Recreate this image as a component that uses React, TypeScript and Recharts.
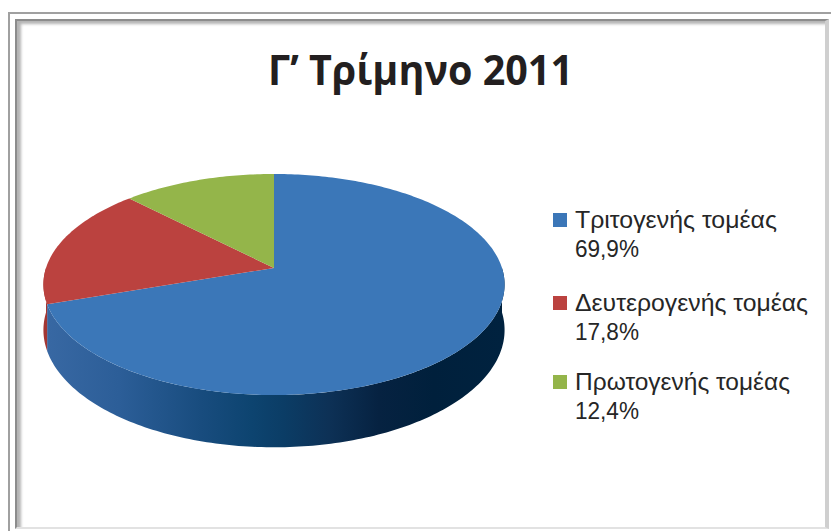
import React from 'react';
import { PieChart, Pie, Legend } from 'recharts';

// ---- data ----
const categories = ['Τριτογενής τομέας', 'Δευτερογενής τομέας', 'Πρωτογενής τομέας'];
const shares = [69.9, 17.8, 12.4];
const shareLabels = ['69,9%', '17,8%', '12,4%'];
const chartTitle = 'Γ’ Τρίμηνο 2011';

// ---- style ----
const topColors = ['#3B77B8', '#BB423F', '#94B54A'];
const sideFills = ['url(#sideBlue)', 'url(#sideRed)', 'url(#sideGreen)'];
const legendTextWidths = [202, 233, 215];
const W = 831;
const H = 531;
const CX = 274;
const CY = 268;
const R = 228;
const RY_RATIO = 0.474;
const DEPTH_RATIO = 0.195;
const PERSP = 6.7;

const data = categories.map((name, i) => ({ name, value: shares[i], fill: topColors[i] }));

function proj(cx: number, cy: number, r: number, deg: number, drop: number): [number, number] {
  const t = (deg * Math.PI) / 180;
  const X = Math.cos(t);
  const Z = -Math.sin(t);
  const f = PERSP / (PERSP - Z);
  return [cx + r * X * f, cy + (r * RY_RATIO * Z + drop) * f];
}

function arcPts(cx: number, cy: number, r: number, a: number, b: number, drop: number) {
  const n = Math.max(2, Math.ceil(Math.abs(b - a)));
  const pts: [number, number][] = [];
  for (let i = 0; i <= n; i++) {
    const d = a + ((b - a) * i) / n;
    pts.push(proj(cx, cy, r, d, drop));
  }
  return pts;
}

const toPath = (pts: [number, number][]) => pts.map((p) => `${p[0].toFixed(2)},${p[1].toFixed(2)}`).join(' L');

const Sector3D = (props: any) => {
  const { cx, cy, outerRadius, startAngle, endAngle, fill } = props;
  const idx = Math.max(0, topColors.indexOf(fill));
  const depth = outerRadius * DEPTH_RATIO;
  const lo = Math.min(startAngle, endAngle);
  const hi = Math.max(startAngle, endAngle);
  const sides: string[] = [];
  for (const k of [-360, 0, 360]) {
    const a = Math.max(lo, -180 + k);
    const b = Math.min(hi, 0 + k);
    if (b > a) {
      const top = arcPts(cx, cy, outerRadius, a, b, 0);
      const bot = arcPts(cx, cy, outerRadius, b, a, depth);
      sides.push(`M${toPath(top)} L${toPath(bot)} Z`);
    }
  }
  const topPts = arcPts(cx, cy, outerRadius, startAngle, endAngle, 0);
  const topD = `M${cx},${cy} L${toPath(topPts)} Z`;
  return (
    <g>
      {sides.map((d, i) => (
        <path key={i} d={d} fill={sideFills[idx]} stroke="none" />
      ))}
      <path d={topD} fill={fill} stroke="none" />
    </g>
  );
};

const LEGEND_FONT = "'Liberation Sans', Arial, sans-serif";

const renderLegend = () => (
  <svg width={290} height={240} style={{ overflow: 'visible' }}>
    {categories.map((name, i) => {
      const y0 = [18, 101, 180][i];
      return (
        <g key={name}>
          <rect x={13} y={y0} width={14} height={14} fill={topColors[i]} />
          <text
            x={35}
            y={y0 + 14.5}
            fontFamily={LEGEND_FONT}
            fontSize={24}
            fill="#262626"
            textLength={legendTextWidths[i]}
            lengthAdjust="spacingAndGlyphs"
          >
            {name}
          </text>
          <text
            x={35}
            y={y0 + 43.5}
            fontFamily={LEGEND_FONT}
            fontSize={24}
            fill="#262626"
            textLength={64}
            lengthAdjust="spacingAndGlyphs"
          >
            {shareLabels[i]}
          </text>
        </g>
      );
    })}
  </svg>
);

export default function App() {
  return (
    <div style={{ position: 'absolute', left: 0, top: 0, width: W, height: H, background: '#fff', overflow: 'hidden' }}>
      {/* outer frame */}
      <div
        style={{
          position: 'absolute',
          left: 8,
          top: 12,
          width: W - 8,
          height: H - 12,
          borderTop: '2px solid #a0a0a0',
          borderLeft: '2px solid #a0a0a0',
          boxSizing: 'border-box',
        }}
      />
      {/* inner frame */}
      <div
        style={{
          position: 'absolute',
          left: 15,
          top: 19,
          width: 814,
          height: 510,
          borderTop: '2px solid #8c8c8c',
          borderLeft: '2px solid #8c8c8c',
          borderRight: '4px solid #cfcfcf',
          borderBottom: '2px solid #e2e2e2',
          boxShadow: 'inset 5px 4px 3px -1px #b4b4b4',
          boxSizing: 'border-box',
        }}
      />
      <svg width={W} height={100} style={{ position: 'absolute', left: 0, top: 0 }}>
        <text
          x={268}
          y={85}
          fontFamily="'Open Sans', 'Noto Sans', sans-serif"
          fontWeight={700}
          fontSize={42}
          fill="#231F20"
          textLength={305}
          lengthAdjust="spacingAndGlyphs"
        >
          {chartTitle}
        </text>
      </svg>
      <div style={{ position: 'absolute', left: 0, top: 0 }}>
        <PieChart width={W} height={H} margin={{ top: 0, right: 0, bottom: 0, left: 0 }}>
          <defs>
            <linearGradient id="sideBlue" gradientUnits="userSpaceOnUse" x1={CX - R} y1={0} x2={CX + R} y2={0}>
              <stop offset="0" stopColor="#3868A3" />
              <stop offset="0.16" stopColor="#2C5E98" />
              <stop offset="0.34" stopColor="#184C7E" />
              <stop offset="0.45" stopColor="#0D4470" />
              <stop offset="0.52" stopColor="#0B3D66" />
              <stop offset="0.62" stopColor="#0D3156" />
              <stop offset="0.73" stopColor="#062241" />
              <stop offset="0.85" stopColor="#00203C" />
              <stop offset="1" stopColor="#00223F" />
            </linearGradient>
            <linearGradient id="sideRed" gradientUnits="userSpaceOnUse" x1={CX - R} y1={0} x2={CX + R} y2={0}>
              <stop offset="0" stopColor="#A23633" />
              <stop offset="1" stopColor="#3a0e0d" />
            </linearGradient>
            <linearGradient id="sideGreen" gradientUnits="userSpaceOnUse" x1={CX - R} y1={0} x2={CX + R} y2={0}>
              <stop offset="0" stopColor="#7A9A3A" />
              <stop offset="1" stopColor="#2e3c12" />
            </linearGradient>
          </defs>
          <Pie
            data={data}
            dataKey="value"
            nameKey="name"
            cx={CX}
            cy={CY}
            outerRadius={R}
            startAngle={90}
            endAngle={-270}
            stroke="none"
            isAnimationActive={false}
            shape={Sector3D}
          />
          <Legend
            content={renderLegend}
            wrapperStyle={{ position: 'absolute', left: 540, top: 195, width: 290, height: 240 }}
          />
        </PieChart>
      </div>
    </div>
  );
}
